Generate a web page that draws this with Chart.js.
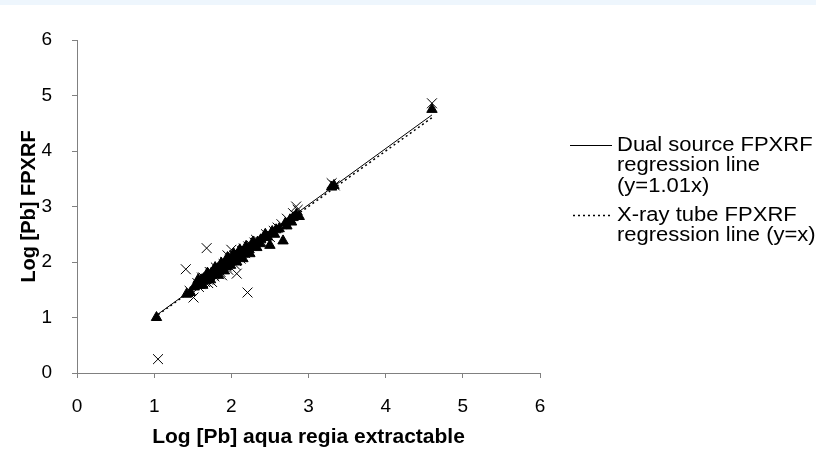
<!DOCTYPE html>
<html>
<head>
<meta charset="utf-8">
<script src="https://cdn.jsdelivr.net/npm/chart.js@4"></script>
<style>
  body { margin: 0; background: #fff; }
  #wrap { width: 816px; height: 453px; }
</style>
</head>
<body>
<div id="wrap"><canvas id="pbChart" width="816" height="453"></canvas></div>
<script>
// Dual source FPXRF (triangles)
const dualX = [1.03,1.42,1.47,1.52,1.55,1.58,1.6,1.62,1.64,1.66,1.68,1.7,1.72,1.74,1.76,1.78,1.8,1.82,1.84,1.86,1.88,1.9,1.92,1.94,1.96,1.98,2.0,2.02,2.04,2.06,2.08,2.1,2.12,2.14,2.16,2.18,2.2,2.23,2.26,2.3,2.34,2.38,2.42,2.47,2.5,2.53,2.58,2.62,2.67,2.7,2.76,2.8,2.84,2.88,3.3,3.33,4.6,
  1.57,1.63,1.69,1.73,1.79,1.83,1.87,1.91,1.95,1.99,2.03,2.07,2.11,2.15,2.19,2.24,2.28,2.33,2.37,2.44,2.56,2.72,2.78];
const dualY = [1.0,1.42,1.45,1.55,1.6,1.58,1.65,1.68,1.7,1.66,1.75,1.78,1.74,1.8,1.82,1.78,1.86,1.88,1.84,1.92,1.9,1.95,1.97,1.92,2.02,2.0,2.05,2.08,2.02,2.1,2.12,2.08,2.16,2.18,2.14,2.2,2.24,2.22,2.28,2.3,2.36,2.4,2.44,2.45,2.3,2.55,2.58,2.6,2.38,2.7,2.76,2.8,2.85,2.82,3.35,3.38,4.75,
  1.68,1.58,1.8,1.68,1.9,1.76,1.98,1.84,2.08,1.94,2.15,2.0,2.22,2.06,2.28,2.15,2.36,2.26,2.33,2.5,2.5,2.65,2.72];

// X-ray tube FPXRF (crosses)
const tubeX = [1.05,1.41,1.51,1.68,2.07,2.21,1.46,1.56,1.6,1.64,1.7,1.74,1.78,1.82,1.86,1.9,1.94,1.98,2.02,2.06,2.1,2.14,2.18,2.22,2.26,2.3,2.35,2.4,2.45,2.55,2.6,2.65,2.72,2.8,2.84,2.86,3.3,3.34,4.6,1.75,1.88,2.0,
  1.58,1.66,1.72,1.8,1.84,1.92,1.96,2.04,2.12,2.16,2.24,2.32,2.5,1.62,1.7,1.95,2.05];
const tubeY = [0.25,1.87,1.36,2.25,1.79,1.45,1.48,1.62,1.6,1.72,1.68,1.8,1.74,1.85,1.82,1.96,1.92,2.04,2.08,2.02,2.14,2.2,2.16,2.28,2.3,2.35,2.38,2.36,2.5,2.56,2.62,2.68,2.78,2.88,3.0,2.94,3.42,3.38,4.86,1.64,1.76,2.22,
  1.55,1.64,1.82,1.9,1.78,2.0,1.86,2.12,2.06,2.24,2.2,2.4,2.45,1.72,1.62,2.12,1.95];

// regression lines
const lineX = [1.0, 4.6];
const dualLineY = [1.01, 4.65];
const tubeLineY = [1.0, 4.6];

const dualLegend = ['Dual source FPXRF', 'regression line', '(y=1.01x)'];
const tubeLegend = ['X-ray tube FPXRF', 'regression line (y=x)'];

const xTitle = 'Log [Pb] aqua regia extractable';
const yTitle = 'Log [Pb] FPXRF';

const pts = (xs, ys) => xs.map((x, i) => ({ x: x, y: ys[i] }));

const FONT = "'Liberation Sans', Arial, sans-serif";

// light band at the top of the picture
const topBand = {
  id: 'topBand',
  beforeDraw(chart) {
    const c = chart.ctx;
    c.save();
    c.fillStyle = '#eef6fd';
    c.fillRect(0, 0, chart.width, 5);
    c.restore();
  }
};

// legend for the two regression lines, text on several rows
// (text is a little wider than tall in the original, hence the x scale)
const lineLegend = {
  id: 'lineLegend',
  afterDraw(chart) {
    const c = chart.ctx;
    const x0 = 570, x1 = 612, tx = 617, rowH = 20.5, sx = 1.1;
    let y = 145;
    c.save();
    c.font = '20px ' + FONT;
    c.fillStyle = '#000';
    c.textBaseline = 'middle';
    chart.data.datasets.forEach(ds => {
      if (!ds.legendRows) return;
      c.strokeStyle = '#000';
      c.lineWidth = ds.borderDash ? 1.5 : 1;
      c.setLineDash(ds.borderDash || []);
      c.beginPath();
      c.moveTo(ds.borderDash ? 573 : x0, y + 0.5);
      c.lineTo(x1, y + 0.5);
      c.stroke();
      c.setLineDash([]);
      ds.legendRows.forEach((t, i) => {
        c.save();
        c.translate(tx, y + i * rowH);
        c.scale(sx, 1);
        c.fillText(t, 0, 0);
        c.restore();
      });
      y += ds.legendRows.length * rowH + 8.5;
    });
    c.restore();
  }
};

const ctx = document.getElementById('pbChart').getContext('2d');

window.pbChart = new Chart(ctx, {
  type: 'scatter',
  data: {
    datasets: [
      {
        label: dualLegend.join(' '),
        legendRows: dualLegend,
        type: 'line',
        data: pts(lineX, dualLineY),
        borderColor: '#000',
        borderWidth: 1,
        pointRadius: 0,
        fill: false,
        order: 1
      },
      {
        label: tubeLegend.join(' '),
        legendRows: tubeLegend,
        type: 'line',
        data: pts(lineX, tubeLineY),
        borderColor: '#000',
        borderWidth: 1.5,
        borderDash: [2, 3],
        pointRadius: 0,
        fill: false,
        order: 2
      },
      {
        label: 'Dual source FPXRF',
        data: pts(dualX, dualY),
        pointStyle: 'triangle',
        pointRadius: 6,
        backgroundColor: '#000',
        borderColor: '#000',
        borderWidth: 1,
        order: 3
      },
      {
        label: 'X-ray tube FPXRF',
        data: pts(tubeX, tubeY),
        pointStyle: 'crossRot',
        pointRadius: 7,
        backgroundColor: '#000',
        borderColor: '#000',
        borderWidth: 1,
        order: 4
      }
    ]
  },
  options: {
    responsive: false,
    animation: false,
    devicePixelRatio: 1,
    layout: { padding: { left: 17, top: 40, right: 276, bottom: 3 } },
    plugins: {
      legend: { display: false },
      tooltip: { enabled: false }
    },
    scales: {
      x: {
        type: 'linear',
        min: 0,
        max: 6,
        ticks: { stepSize: 1, color: '#000', font: { family: FONT, size: 19 }, padding: 17 },
        grid: { drawOnChartArea: false, drawTicks: true, tickLength: 5, color: '#808080' },
        border: { color: '#808080' },
        title: { display: true, text: xTitle, color: '#000', font: { family: FONT, size: 21, weight: 'bold' }, padding: 0 },
        afterFit(axis) { axis.height = 77; }
      },
      y: {
        type: 'linear',
        min: 0,
        max: 6,
        ticks: { stepSize: 1, color: '#000', font: { family: FONT, size: 19 }, padding: 20 },
        grid: { drawOnChartArea: false, drawTicks: true, tickLength: 5, color: '#808080' },
        border: { color: '#808080' },
        title: { display: true, text: yTitle, color: '#000', font: { family: FONT, size: 20, weight: 'bold' }, padding: 0 },
        afterFit(axis) { axis.width = 60; }
      }
    }
  },
  plugins: [topBand, lineLegend]
});
</script>
</body>
</html>
